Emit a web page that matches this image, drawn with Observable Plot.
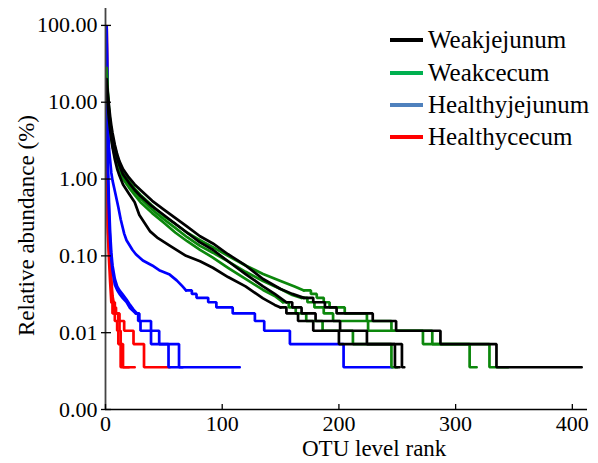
<!DOCTYPE html>
<html><head><meta charset="utf-8">
<script src="https://cdn.jsdelivr.net/npm/d3@7"></script>
<script src="https://cdn.jsdelivr.net/npm/@observablehq/plot@0.6"></script>
<style>
html,body{margin:0;padding:0;background:#fff;}
#wrap{position:relative;width:598px;height:463px;font-family:"Liberation Serif","Times New Roman",serif;color:#000;}
#wrap svg{position:absolute;left:0;top:0;}
.t{position:absolute;font-size:23px;line-height:23px;white-space:nowrap;}
.leg{position:absolute;left:390px;width:200px;height:30px;}
.leg .sw{position:absolute;left:0;top:14px;width:33px;height:3.5px;}
.leg .lb{position:absolute;left:38px;top:3px;font-size:25px;line-height:25px;white-space:nowrap;}
</style></head><body><div id="wrap"></div>
<script>
// ---- groups & colours ----
const groups = ["Weakjejunum", "Weakcecum", "Healthyjejunum", "Healthycecum"];
const lineColors = ["#000000", "#0c870c", "#0000ff", "#ff0000"];
const legendColors = ["#000000", "#00b050", "#4f81bd", "#ff0000"];
const xTicks = [0, 100, 200, 300, 400];
const yTicks = [0.001, 0.01, 0.1, 1, 10, 100];

// ---- rank / relative abundance (%) ----
// head: smooth upper part; tail: [rank where level starts, level] steps
const weakJejunum1Head = [[1,20],[2,13],[3,9],[4,6.5],[5,5],[6,4],[8,2.8],[10,2.1],[12,1.7],[15,1.35],[20,1.05],[25,0.85],[30,0.72],[40,0.52],[50,0.4],[60,0.31],[70,0.24],[81,0.18],[92,0.145],[105,0.105],[120,0.075],[135,0.05],[150,0.037],[160,0.032],[170,0.0284]];
const weakJejunum1Tail = [[170,0.0284],[178,0.0249],[188,0.0213],[198,0.0178],[229,0.0142],[249,0.0106],[287,0.0071],[335,0.00355],[408,0.00355]];
const weakJejunum2Head = [[1,17],[2,11],[3,7.5],[4,5.5],[5,4.3],[6,3.5],[8,2.5],[10,1.85],[12,1.5],[15,1.15],[20,0.9],[25,0.72],[30,0.6],[40,0.44],[50,0.34],[60,0.26],[70,0.2],[81,0.15],[92,0.12],[105,0.085],[120,0.058],[135,0.04],[145,0.032],[155,0.0249]];
const weakJejunum2Tail = [[155,0.0249],[160,0.0213],[168,0.0178],[180,0.0142],[201,0.0106],[224,0.0071],[248,0.00355],[252,0.00355]];
const weakJejunum3Head = [[1,14],[2,9],[3,6],[4,4.3],[5,3.3],[6,2.6],[8,1.8],[10,1.35],[12,1.1],[15,0.85],[20,0.65],[25,0.5],[29,0.34],[38,0.21],[45,0.17],[55,0.136],[69,0.1],[81,0.085],[92,0.07],[105,0.053],[120,0.04],[135,0.028],[145,0.023],[150,0.0213]];
const weakJejunum3Tail = [[150,0.0213],[155,0.0178],[165,0.0142],[178,0.0106],[200,0.0071],[254,0.00355],[256,0.00355]];

const weakCecum1Head = [[1,28],[2,14],[3,8],[4,5.5],[5,4.3],[6,3.5],[8,2.6],[10,2],[12,1.6],[15,1.25],[20,0.95],[25,0.75],[30,0.62],[40,0.45],[50,0.33],[60,0.26],[70,0.2],[81,0.16],[92,0.13],[105,0.1],[120,0.075],[135,0.058],[150,0.047],[162,0.04],[170,0.0355]];
const weakCecum1Tail = [[170,0.0355],[176,0.032],[181,0.0284],[187,0.0249],[192,0.0213],[205,0.0178],[224,0.0142],[245,0.0106],[280,0.0071],[329,0.00355],[345,0.00355]];
const weakCecum2Head = [[1,24],[2,12],[3,7.5],[4,5],[5,3.8],[6,3],[8,2.2],[10,1.7],[12,1.4],[15,1.1],[20,0.85],[25,0.68],[30,0.56],[40,0.4],[50,0.3],[60,0.23],[70,0.175],[81,0.135],[92,0.11],[105,0.085],[120,0.062],[135,0.047],[150,0.037],[160,0.031],[168,0.0284]];
const weakCecum2Tail = [[168,0.0284],[173,0.0249],[179,0.0213],[187,0.0178],[195,0.0142],[225,0.0106],[272,0.0071],[312,0.00355],[318,0.00355]];
const weakCecum3Head = [[1,22],[2,11],[3,6.5],[4,4.5],[5,3.4],[6,2.7],[8,2],[10,1.55],[12,1.25],[15,1],[20,0.78],[25,0.62],[30,0.5],[40,0.36],[50,0.27],[60,0.2],[70,0.155],[81,0.12],[92,0.095],[105,0.07],[120,0.05],[135,0.036],[145,0.03],[152,0.0249]];
const weakCecum3Tail = [[152,0.0249],[157,0.0213],[163,0.0178],[172,0.0142],[186,0.0106],[212,0.0071],[245,0.00355],[250,0.00355]];

const healthyJejunum1Head = [[1,60],[2,5.8],[3,2.5],[5,1.2],[6,0.96],[8,0.7],[11,0.43],[13,0.3],[16,0.195],[18,0.16],[23,0.12],[26,0.105],[32,0.087],[40,0.075],[46,0.065],[55,0.057],[61,0.048],[66,0.04],[69,0.0355]];
const healthyJejunum1Tail = [[69,0.0355],[74,0.032],[78,0.0284],[88,0.0249],[95,0.0213],[109,0.0178],[128,0.0142],[136,0.0106],[158,0.0071],[204,0.00355],[246,0.00355]];
const healthyJejunum2Head = [[1,95],[2,1.2],[3,0.35],[4,0.15],[5,0.09],[6,0.065],[8,0.042],[10,0.036],[12,0.032],[15,0.028],[18,0.025],[21,0.021],[24,0.019],[26,0.0178]];
const healthyJejunum2Tail = [[26,0.0178],[28,0.0142],[30,0.0106],[39,0.0071],[54,0.00355],[115,0.00355]];
const healthyJejunum3Head = [[1,92],[2,1.6],[3,0.5],[4,0.2],[5,0.11],[6,0.075],[8,0.05],[10,0.04],[12,0.0355],[15,0.031],[18,0.027],[21,0.023],[24,0.02],[27,0.0178]];
const healthyJejunum3Tail = [[27,0.0178],[29,0.0142],[39,0.0106],[46,0.0071],[63,0.00355],[66,0.00355]];

const healthyCecum1Head = [[1,98],[2,0.2],[3,0.09],[4,0.045],[5,0.025]];
const healthyCecum1Tail = [[5,0.025],[6,0.0178],[8,0.0142],[10,0.0106],[11,0.0071],[13,0.00355],[20,0.00355]];
const healthyCecum2Head = [[1,96],[2,0.3],[3,0.15],[4,0.08],[5,0.05],[6,0.03],[7,0.0249]];
const healthyCecum2Tail = [[7,0.0249],[8,0.0213],[9,0.0178],[11,0.0142],[12,0.0106],[13,0.0071],[15,0.00355],[25,0.00355]];
const healthyCecum3Head = [[1,97],[2,0.25],[3,0.12],[4,0.07],[5,0.04],[6,0.0249]];
const healthyCecum3Tail = [[6,0.0249],[7,0.0178],[12,0.0142],[16,0.0106],[24,0.0071],[33,0.00355],[55,0.00355]];

// ---- samples, in drawing order (red, blue, green, black) ----
const samples = [
  {g: 3, head: healthyCecum1Head, tail: healthyCecum1Tail},
  {g: 3, head: healthyCecum2Head, tail: healthyCecum2Tail},
  {g: 3, head: healthyCecum3Head, tail: healthyCecum3Tail},
  {g: 2, head: healthyJejunum1Head, tail: healthyJejunum1Tail},
  {g: 2, head: healthyJejunum2Head, tail: healthyJejunum2Tail},
  {g: 2, head: healthyJejunum3Head, tail: healthyJejunum3Tail},
  {g: 1, head: weakCecum3Head, tail: weakCecum3Tail},
  {g: 1, head: weakCecum2Head, tail: weakCecum2Tail},
  {g: 1, head: weakCecum1Head, tail: weakCecum1Tail},
  {g: 0, head: weakJejunum3Head, tail: weakJejunum3Tail},
  {g: 0, head: weakJejunum2Head, tail: weakJejunum2Tail},
  {g: 0, head: weakJejunum1Head, tail: weakJejunum1Tail}
];

const lineMarks = [];
for (const s of samples) {
  const c = lineColors[s.g];
  lineMarks.push(Plot.line(s.head, {x: d => d[0], y: d => d[1], stroke: c, strokeWidth: 2.7, strokeLinejoin: "round"}));
  lineMarks.push(Plot.line(s.tail, {x: d => d[0], y: d => d[1], stroke: c, strokeWidth: 2.7, curve: "step-after", strokeLinejoin: "miter"}));
}

const chart = Plot.plot({
  width: 598, height: 463,
  marginLeft: 105, marginRight: 11, marginTop: 8, marginBottom: 54,
  x: {domain: [0, 413]},
  y: {type: "log", domain: [0.001, 166]},
  style: {fontFamily: '"Liberation Serif","Times New Roman",serif', fontSize: "22px", background: "white", color: "black", overflow: "visible"},
  marks: [
    ...lineMarks,
    Plot.ruleX([0], {stroke: "#444", strokeWidth: 1.8}),
    Plot.ruleY([0.001], {stroke: "#000", strokeWidth: 1.4}),
    Plot.axisY({ticks: yTicks, tickFormat: d => d.toFixed(2), tickSize: 4, tickPadding: 4, fontSize: 22, label: null, strokeWidth: 1.3}),
    Plot.axisY({ticks: yTicks, tickFormat: () => "", tickSize: -6, tickPadding: 0, label: null, strokeWidth: 1.3}),
    Plot.axisX({ticks: xTicks, tickFormat: d => String(d), tickSize: -5, tickPadding: 11, fontSize: 22, label: null, strokeWidth: 1.3})
  ]
});

const wrap = document.getElementById("wrap");
wrap.appendChild(chart);

// axis titles
const xt = document.createElement("div");
xt.className = "t"; xt.textContent = "OTU level rank";
xt.style.left = "302px"; xt.style.top = "437px";
wrap.appendChild(xt);
const yt = document.createElement("div");
yt.className = "t"; yt.textContent = "Relative abundance (%)";
yt.style.width = "260px"; yt.style.textAlign = "center";
yt.style.left = (26 - 130) + "px"; yt.style.top = (225 - 11) + "px";
yt.style.transform = "rotate(-90deg)";
wrap.appendChild(yt);

// legend
const legTops = [24, 57, 89, 121];
groups.forEach((g, i) => {
  const row = document.createElement("div");
  row.className = "leg"; row.style.top = legTops[i] + "px";
  const sw = document.createElement("div"); sw.className = "sw"; sw.style.background = legendColors[i];
  const lb = document.createElement("div"); lb.className = "lb"; lb.textContent = g;
  row.appendChild(sw); row.appendChild(lb); wrap.appendChild(row);
});
</script></body></html>
